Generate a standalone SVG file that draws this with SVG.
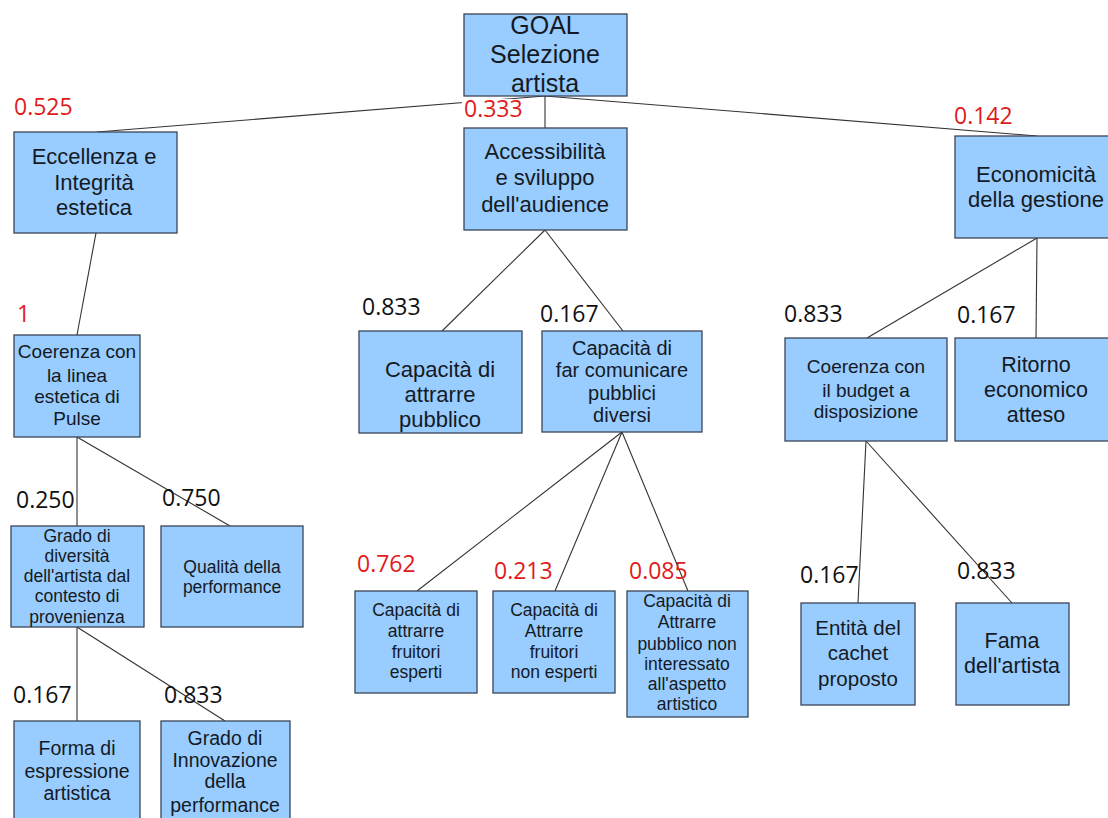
<svg xmlns="http://www.w3.org/2000/svg" width="1108" height="818" viewBox="0 0 1108 818">
<style>
.box{fill:#99ccff;stroke:#3a4656;stroke-width:1.3}
.t{font-family:"Liberation Sans",Arial,sans-serif;fill:#141a24;text-anchor:middle}
.w{font-family:"Open Sans","Noto Sans",sans-serif;font-size:23px;fill:#111}
.r{fill:#e01b1b}
.c line{stroke:#333;stroke-width:1.1}
</style>
<rect width="1108" height="818" fill="#fff"/>
<g id="connectors" class="c">
<line x1="545" y1="96" x2="97" y2="132"/>
<line x1="545" y1="96" x2="545" y2="128"/>
<line x1="545" y1="96" x2="1037" y2="136"/>
<line x1="96" y1="233" x2="77" y2="335"/>
<line x1="545" y1="230" x2="442" y2="331"/>
<line x1="545" y1="230" x2="623" y2="331"/>
<line x1="1037" y1="238" x2="867" y2="338"/>
<line x1="1037" y1="238" x2="1036" y2="338"/>
<line x1="77" y1="437" x2="77" y2="526"/>
<line x1="77" y1="437" x2="230" y2="526"/>
<line x1="77" y1="627" x2="77" y2="721"/>
<line x1="77" y1="627" x2="225" y2="721"/>
<line x1="622" y1="432" x2="417" y2="591"/>
<line x1="622" y1="432" x2="555" y2="591"/>
<line x1="622" y1="432" x2="688" y2="591"/>
<line x1="866" y1="441" x2="858" y2="603"/>
<line x1="866" y1="441" x2="1012" y2="603"/>
</g>
<g id="goal"><rect class="box" x="464" y="14" width="163" height="82"/>
<text class="t" font-size="25"><tspan x="545" y="34">GOAL</tspan><tspan x="545" y="63">Selezione</tspan><tspan x="545" y="92">artista</tspan></text></g>
<g id="eccellenza"><rect class="box" x="14" y="132" width="163" height="101"/>
<text class="t" font-size="22"><tspan x="94" y="164">Eccellenza e</tspan><tspan x="94" y="190">Integrità</tspan><tspan x="94" y="215">estetica</tspan></text></g>
<g id="accessibilita"><rect class="box" x="464" y="128" width="163" height="102"/>
<text class="t" font-size="22"><tspan x="545" y="159">Accessibilità</tspan><tspan x="545" y="185">e sviluppo</tspan><tspan x="545" y="212">dell'audience</tspan></text></g>
<g id="economicita"><rect class="box" x="955" y="136" width="163" height="102"/>
<text class="t" font-size="22"><tspan x="1036" y="182">Economicità</tspan><tspan x="1036" y="207">della gestione</tspan></text></g>
<g id="coerenza-pulse"><rect class="box" x="14" y="335" width="126" height="102"/>
<text class="t" font-size="19"><tspan x="77" y="358">Coerenza con</tspan><tspan x="77" y="382">la linea</tspan><tspan x="77" y="403">estetica di</tspan><tspan x="77" y="425">Pulse</tspan></text></g>
<g id="attrarre-pubblico"><rect class="box" x="359" y="331" width="163" height="102"/>
<text class="t" font-size="22"><tspan x="440" y="377">Capacità di</tspan><tspan x="440" y="402">attrarre</tspan><tspan x="440" y="427">pubblico</tspan></text></g>
<g id="far-comunicare"><rect class="box" x="542" y="331" width="160" height="101"/>
<text class="t" font-size="20"><tspan x="622" y="355">Capacità di</tspan><tspan x="622" y="377">far comunicare</tspan><tspan x="622" y="400">pubblici</tspan><tspan x="622" y="422">diversi</tspan></text></g>
<g id="coerenza-budget"><rect class="box" x="785" y="338" width="162" height="103"/>
<text class="t" font-size="19"><tspan x="866" y="373">Coerenza con</tspan><tspan x="866" y="397">il budget a</tspan><tspan x="866" y="418">disposizione</tspan></text></g>
<g id="ritorno"><rect class="box" x="955" y="338" width="163" height="103"/>
<text class="t" font-size="21.5"><tspan x="1036" y="372">Ritorno</tspan><tspan x="1036" y="397">economico</tspan><tspan x="1036" y="422">atteso</tspan></text></g>
<g id="grado-diversita"><rect class="box" x="11" y="526" width="133" height="101"/>
<text class="t" font-size="17.5"><tspan x="77" y="542">Grado di</tspan><tspan x="77" y="562">diversità</tspan><tspan x="77" y="582">dell'artista dal</tspan><tspan x="77" y="602">contesto di</tspan><tspan x="77" y="623">provenienza</tspan></text></g>
<g id="qualita"><rect class="box" x="161" y="526" width="142" height="101"/>
<text class="t" font-size="17.5"><tspan x="232" y="573">Qualità della</tspan><tspan x="232" y="593">performance</tspan></text></g>
<g id="forma"><rect class="box" x="14" y="721" width="126" height="110"/>
<text class="t" font-size="19.5"><tspan x="77" y="755">Forma di</tspan><tspan x="77" y="778">espressione</tspan><tspan x="77" y="800">artistica</tspan></text></g>
<g id="innovazione"><rect class="box" x="161" y="721" width="129" height="110"/>
<text class="t" font-size="19.5"><tspan x="225" y="745">Grado di</tspan><tspan x="225" y="767">Innovazione</tspan><tspan x="225" y="788">della</tspan><tspan x="225" y="812">performance</tspan></text></g>
<g id="fruitori-esperti"><rect class="box" x="355" y="591" width="122" height="102"/>
<text class="t" font-size="17.5"><tspan x="416" y="616">Capacità di</tspan><tspan x="416" y="637">attrarre</tspan><tspan x="416" y="658">fruitori</tspan><tspan x="416" y="678">esperti</tspan></text></g>
<g id="fruitori-non-esperti"><rect class="box" x="493" y="591" width="122" height="102"/>
<text class="t" font-size="17.5"><tspan x="554" y="616">Capacità di</tspan><tspan x="554" y="637">Attrarre</tspan><tspan x="554" y="658">fruitori</tspan><tspan x="554" y="678">non esperti</tspan></text></g>
<g id="pubblico-non-interessato"><rect class="box" x="627" y="591" width="121" height="126"/>
<text class="t" font-size="17.5"><tspan x="687" y="607">Capacità di</tspan><tspan x="687" y="628">Attrarre</tspan><tspan x="687" y="650">pubblico non</tspan><tspan x="687" y="670">interessato</tspan><tspan x="687" y="690">all'aspetto</tspan><tspan x="687" y="710">artistico</tspan></text></g>
<g id="entita-cachet"><rect class="box" x="801" y="603" width="114" height="102"/>
<text class="t" font-size="20.5"><tspan x="858" y="635">Entità del</tspan><tspan x="858" y="660">cachet</tspan><tspan x="858" y="686">proposto</tspan></text></g>
<g id="fama"><rect class="box" x="956" y="603" width="113" height="102"/>
<text class="t" font-size="21.5"><tspan x="1012" y="648">Fama</tspan><tspan x="1012" y="673">dell'artista</tspan></text></g>
<g id="weights">
<rect x="462" y="99" width="60" height="21" fill="#fff"/>
<text class="w r" x="14" y="115">0.525</text>
<text class="w r" x="464" y="117">0.333</text>
<text class="w r" x="954" y="124">0.142</text>
<text class="w r" x="17" y="322">1</text>
<text class="w" x="362" y="315">0.833</text>
<text class="w" x="540" y="322">0.167</text>
<text class="w" x="784" y="322">0.833</text>
<text class="w" x="957" y="323">0.167</text>
<text class="w" x="16" y="508">0.250</text>
<text class="w" x="162" y="506">0.750</text>
<text class="w r" x="357" y="572">0.762</text>
<text class="w r" x="494" y="579">0.213</text>
<text class="w r" x="629" y="579">0.085</text>
<text class="w" x="800" y="583">0.167</text>
<text class="w" x="957" y="579">0.833</text>
<text class="w" x="13" y="703">0.167</text>
<text class="w" x="164" y="703">0.833</text>
</g>
</svg>
